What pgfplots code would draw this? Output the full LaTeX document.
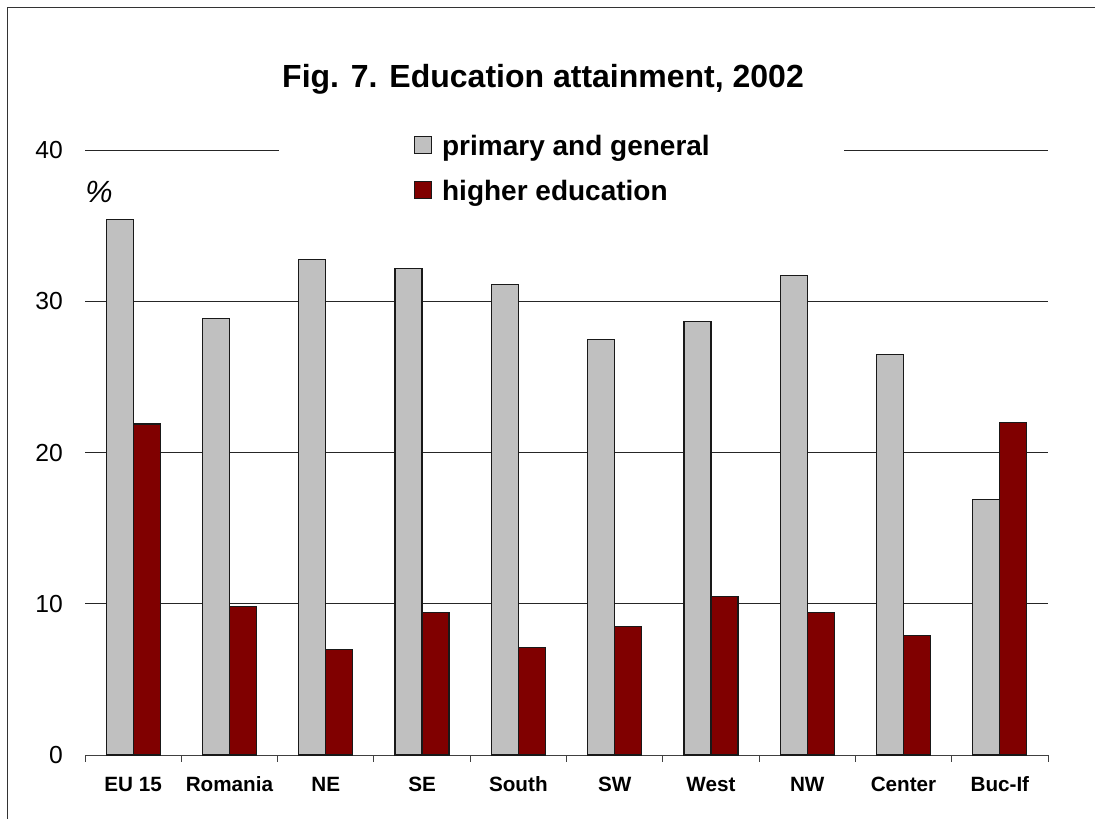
\documentclass[border=0pt]{standalone}
\usepackage{fontspec}
\setmainfont{Liberation Sans}
\usepackage{pgfplots}
\pgfplotsset{compat=1.18}

\definecolor{barsilver}{HTML}{C0C0C0}
\definecolor{barmaroon}{HTML}{800000}
\definecolor{framegray}{HTML}{333333}

\begin{document}
\begin{tikzpicture}
% page = 1095 x 818 px at 0.75 pt per px
\useasboundingbox (0pt,0pt) rectangle (821.25pt,613.5pt);
\draw[framegray, line width=1.1pt] (5.5pt,-2pt) -- (5.5pt,608pt) -- (824pt,608pt);

\node[anchor=base, font=\bfseries\fontsize{24}{28}\selectfont]
  at (407.25pt,547.5pt) {Fig. 7. Education attainment, 2002};

\begin{axis}[
    scale only axis,
    at={(63.75pt,47.25pt)}, anchor=south west,
    width=722.25pt, height=453.5pt,
    ybar=0pt, bar width=20.25pt,
    every axis plot post/.append style={
        legend image code/.code={\draw[##1, line width=0.85pt] (0pt,-5pt) rectangle (12.75pt,7.75pt);}},
    xmin=-0.5, xmax=9.5, ymin=0, ymax=40,
    xtick={0,...,9},
    xticklabels={EU 15,Romania,NE,SE,South,SW,West,NW,Center,Buc-If},
    minor xtick={-0.5,0.5,...,9.5},
    ytick={0,10,20,30,40},
    axis x line*=bottom, axis y line*=left,
    y axis line style={draw=none},
    x axis line style={-, draw=black!75, line width=0.75pt},
    major tick length=0pt, minor tick length=5pt, tick align=outside,
    minor tick style={draw=black!75, line width=0.75pt},
    ytick style={draw=none},
    ymajorgrids,
    major grid style={draw=black!85, line width=0.75pt},
    /pgf/number format/assume math mode=true,
    yticklabel style={font=\fontsize{18.5}{21}\selectfont, anchor=east, inner sep=0pt, xshift=-16.5pt},
    xticklabel style={font=\bfseries\fontsize{15.5}{18}\selectfont, anchor=base, inner sep=0pt, yshift=-27pt},
    legend cell align=left,
    legend style={
        at={(0.2015,0.969)}, anchor=west,
        draw=none, fill=white,
        inner xsep=101pt, inner ysep=4pt,
        font=\bfseries\fontsize{21}{25}\selectfont,
        nodes={inner sep=0pt},
        row sep=17pt, column sep=7.5pt},
]

\addplot[fill=barsilver, draw=black!90, line width=0.85pt] coordinates {
    (0,35.4) (1,28.9) (2,32.8) (3,32.2) (4,31.1)
    (5,27.5) (6,28.7) (7,31.7) (8,26.5) (9,16.9)
};
\addlegendentry{primary and general}

\addplot[fill=barmaroon, draw=black!90, line width=0.85pt] coordinates {
    (0,21.9) (1,9.8) (2,7.0) (3,9.4) (4,7.1)
    (5,8.5) (6,10.5) (7,9.4) (8,7.9) (9,22.0)
};
\addlegendentry{higher education}

\end{axis}

\node[anchor=base west, font=\itshape\fontsize{23}{27}\selectfont]
  at (60.5pt,461.25pt) {\%};
\end{tikzpicture}
\end{document}
